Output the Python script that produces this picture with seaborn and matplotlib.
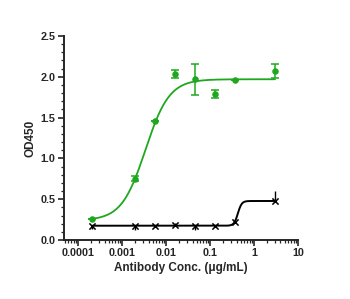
import numpy as np
import pandas as pd
import matplotlib
matplotlib.use("Agg")
import matplotlib.pyplot as plt
import seaborn as sns
from matplotlib.ticker import LogLocator, FixedLocator, NullFormatter, MultipleLocator

# ---- data ----
conc = [0.00021, 0.00197, 0.0056, 0.016, 0.0457, 0.13, 0.37, 3.0]
green_od = [0.26, 0.75, 1.46, 2.03, 1.97, 1.79, 1.96, 2.07]
green_err = [0.0, 0.03, 0.0, 0.05, 0.19, 0.05, 0.0, 0.09]
black_od = [0.17, 0.175, 0.175, 0.18, 0.175, 0.168, 0.225, 0.478]
black_err_lo = [0.03, 0.05, 0.0, 0.0, 0.05, 0.0, 0.0, 0.0]
black_err_hi = [0.0, 0.0, 0.0, 0.03, 0.0, 0.0, 0.0, 0.12]
# 4PL fit parameters: bottom, top, EC50, hill
green_fit = [0.24, 1.97, 0.0034, 1.6]
black_fit = [0.175, 0.478, 0.43, 10.0]

xticks = [0.0001, 0.001, 0.01, 0.1, 1, 10]
xticklabels = ["0.0001", "0.001", "0.01", "0.1", "1", "10"]
yticks = [0.0, 0.5, 1.0, 1.5, 2.0, 2.5]
yticklabels = ["0.0", "0.5", "1.0", "1.5", "2.0", "2.5"]

GREEN = "#1fa81f"

def fourpl(x, p):
    b, t, ec, h = p
    return b + (t - b) / (1.0 + (ec / x) ** h)

sns.set_style("ticks")
plt.rcParams['font.family'] = ['Liberation Sans', 'DejaVu Sans']

fig = plt.figure(figsize=(3.5, 2.99), dpi=100)
ax = fig.add_axes([64/350, 1 - 240/299, (298-64)/350, (240-36)/299])

xs = np.logspace(np.log10(conc[0]), np.log10(conc[-1]), 300)
curves = pd.DataFrame({"x": np.concatenate([xs, xs]),
                       "y": np.concatenate([fourpl(xs, green_fit), fourpl(xs, black_fit)]),
                       "s": ["g"] * len(xs) + ["k"] * len(xs)})
sns.lineplot(data=curves[curves.s == "g"], x="x", y="y", color=GREEN, lw=1.3, ax=ax, legend=False)
sns.lineplot(data=curves[curves.s == "k"], x="x", y="y", color="black", lw=1.4, ax=ax, legend=False)

ax.errorbar(conc, green_od, yerr=green_err, fmt="none", ecolor=GREEN, elinewidth=1.1, capsize=3, capthick=1.1)
ax.errorbar(conc, black_od, yerr=[black_err_lo, black_err_hi], fmt="none", ecolor="black", elinewidth=1.0, capsize=0)

pts = pd.DataFrame({"x": conc, "g": green_od, "k": black_od})
sns.scatterplot(data=pts, x="x", y="g", color=GREEN, s=22, edgecolor=GREEN, linewidth=0, ax=ax, zorder=5)
sns.scatterplot(data=pts, x="x", y="k", color="black", marker="x", s=20, linewidth=1.1, ax=ax, zorder=5)

ax.set_xscale("log")
ax.set_xlim(10 ** -4.32, 10)
ax.set_ylim(0, 2.5)
ax.xaxis.set_major_locator(FixedLocator(xticks))
ax.set_xticklabels(xticklabels)
ax.xaxis.set_minor_locator(LogLocator(base=10, subs=np.arange(2, 10) * 1.0, numticks=20))
ax.xaxis.set_minor_formatter(NullFormatter())
ax.set_yticks(yticks)
ax.set_yticklabels(yticklabels)
ax.yaxis.set_minor_locator(MultipleLocator(0.1))

for sp in ["top", "right"]:
    ax.spines[sp].set_visible(False)
for sp in ["left", "bottom"]:
    ax.spines[sp].set_linewidth(1.4)
ax.tick_params(which="major", length=4, width=1.2, labelsize=7.8, pad=2)
ax.tick_params(which="minor", length=2, width=0.9)
for lab in ax.get_xticklabels() + ax.get_yticklabels():
    lab.set_fontweight("bold")

ax.set_xlabel("Antibody Conc. (μg/mL)", fontsize=8.5, fontweight="bold", labelpad=3)
ax.set_ylabel("OD450", fontsize=8.5, fontweight="bold", labelpad=3)

fig.savefig("out.png", dpi=100)
